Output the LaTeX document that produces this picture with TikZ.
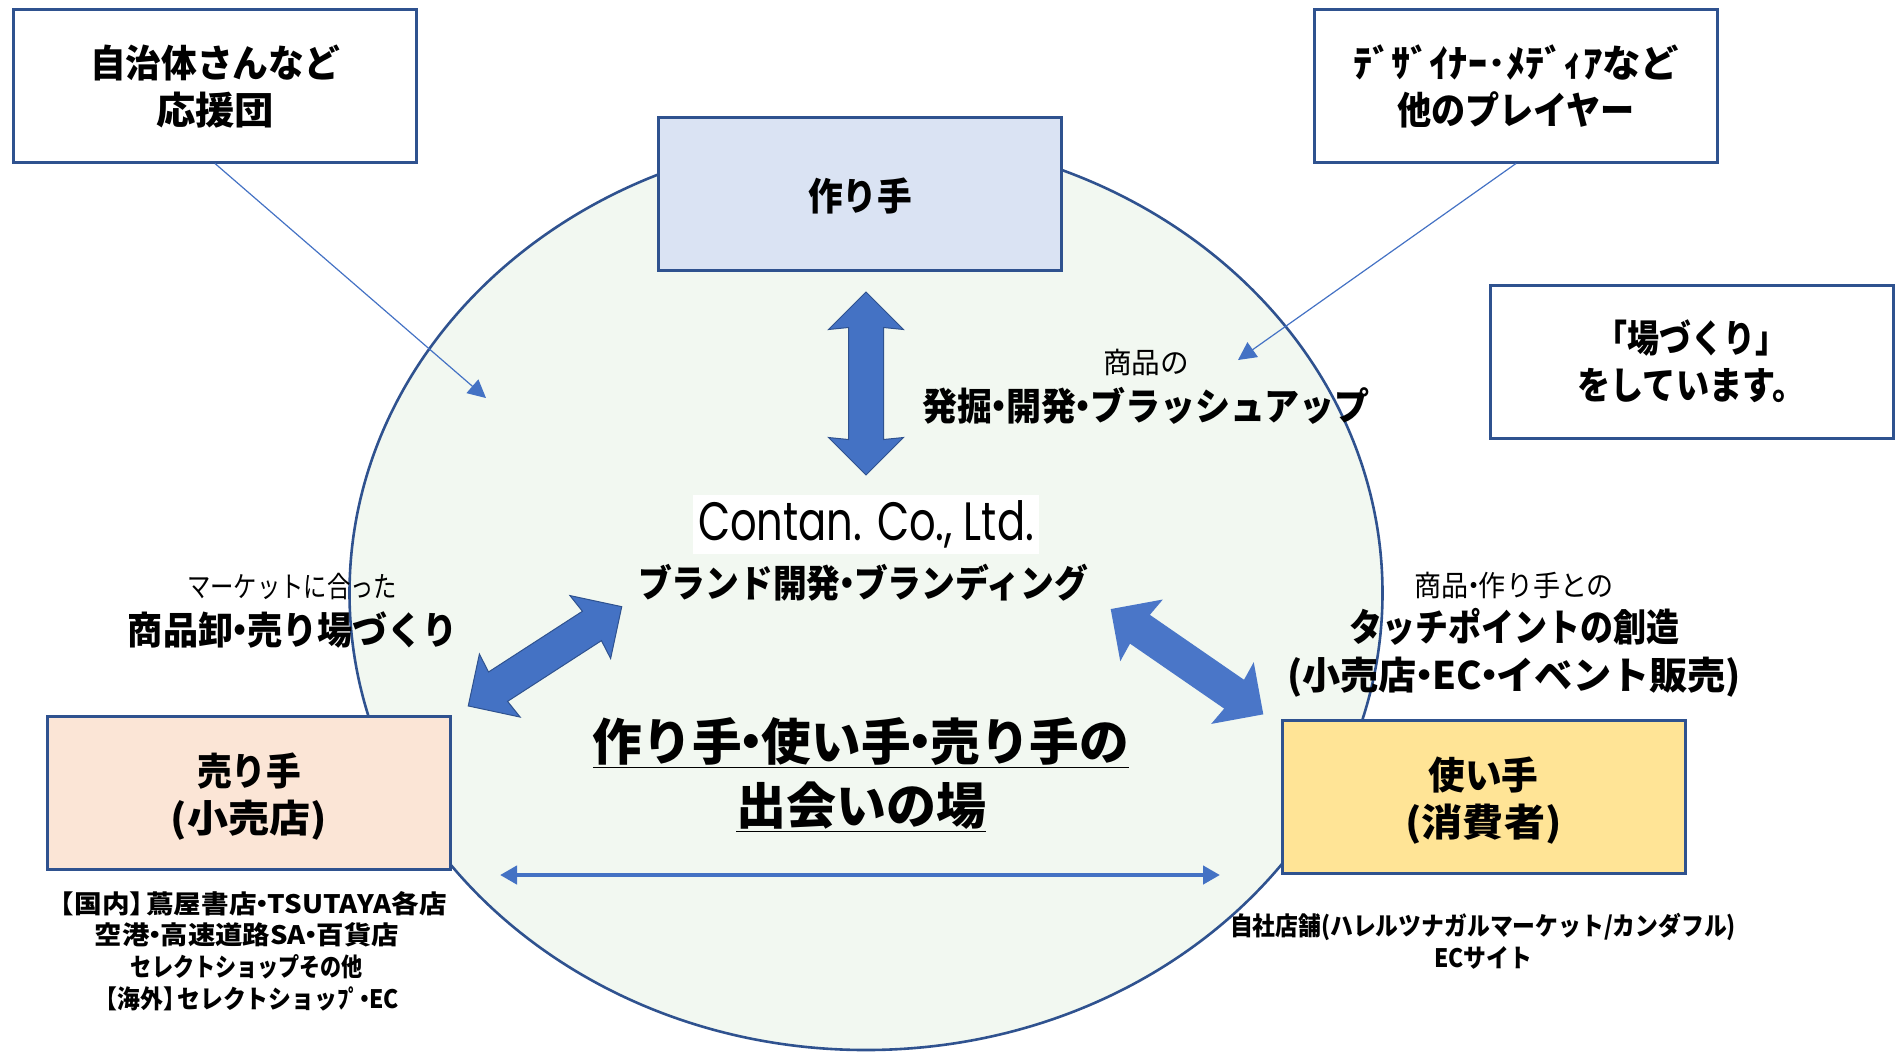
\documentclass[tikz,border=0pt]{standalone}
\usepackage{fontspec}
\usepackage{graphicx}
\usetikzlibrary{shapes.arrows,shapes.geometric,arrows.meta}
\setmainfont{Noto Sans CJK JP}
\newfontfamily\logofont{Poppins}
\newcommand{\fw}[2]{\resizebox{#1pt}{\height}{#2}}
\newcommand{\dt}{{\kern-.3em・\kern-.3em}}
\newcommand{\tg}[1]{\rule{0pt}{#1pt}}
\definecolor{edgeblue}{HTML}{2F528F}
\definecolor{arrowblue}{HTML}{4472C4}
\definecolor{arrowblueb}{HTML}{4A76C8}
\definecolor{circlefill}{HTML}{F2F8F1}
\tikzset{
  x=0.5pt,y=-0.5pt,
  box/.style={draw=edgeblue,line width=1.5pt,minimum width=201.5pt,minimum height=76.5pt,inner sep=0pt,align=center,fill=white,
     font=\bfseries\fontsize{19}{23.6}\selectfont},
  lab/.style={inner sep=0pt,align=center},
  boldlab/.style={lab,font=\bfseries\fontsize{19}{23.6}\selectfont},
  thinlab/.style={lab,font=\fontsize{14.5}{18}\selectfont},
  smalllab/.style={lab,font=\bfseries\fontsize{12.7}{15.8}\selectfont},
  titlelab/.style={lab,font=\bfseries\fontsize{25}{32}\selectfont},
  dbl/.style={double arrow,fill=#1,draw=edgeblue,line width=0.5pt,inner sep=0pt,text height=17pt,text depth=0pt,double arrow head extend=10pt,double arrow head indent=1pt},
  thin conn/.style={draw=arrowblue,line width=0.6pt,-{Triangle[length=9pt,width=9pt,fill=arrowblue]}},
  wide conn/.style={draw=arrowblue,line width=2.3pt,{Triangle[length=8.5pt,width=9pt,fill=arrowblue]}-{Triangle[length=8.5pt,width=9pt,fill=arrowblue]}},
}
\begin{document}
\begin{tikzpicture}
\useasboundingbox (0,0) rectangle (1899,1051);
\node[draw=edgeblue,line width=1.3pt,fill=circlefill,ellipse,minimum width=516.5pt,minimum height=457pt,inner sep=0pt] (ring) at (866,593) {};

\node[box,fill=white] (support) at (215,85.5) {\tg{17.5}\fw{125}{自治体さんなど}\\\fw{59}{応援団}};
\node[box] (players) at (1516,85.5) {\tg{17.5}\fw{163}{ﾃﾞｻﾞｲﾅｰ･ﾒﾃﾞｨｱなど}\\\fw{119}{他のプレイヤー}};
\node[box] (place) at (1691.5,361.5) {\fw{96}{「場づくり」}\\\fw{114}{をしています。}};
\node[box,fill={rgb,255:red,218;green,227;blue,243}] (maker) at (860,194) {\tg{18}\fw{52}{作り手}};
\node[box,fill={rgb,255:red,251;green,229;blue,214}] (seller) at (249,792.5) {\tg{20}\fw{52}{売り手}\\\fw{78}{(小売店)}};
\node[box,fill={rgb,255:red,255;green,228;blue,150}] (user) at (1483.5,796.5) {\tg{20}\fw{55}{使い手}\\\fw{78}{(消費者)}};

\coordinate (supporttip) at (486,398);
\coordinate (playerstip) at (1238,360);
\draw[thin conn] (support.south) -- (supporttip);
\draw[thin conn] (players.south) -- (playerstip);

\node[dbl=arrowblue,rotate=90,minimum height=91.5pt,minimum width=37pt] (upper) at (866,383.5) {};
\node[dbl=arrowblue,rotate=32.9,minimum height=91.4pt,minimum width=37pt] (left) at (545,656.3) {};
\node[dbl=arrowblueb,draw=none,rotate=-34.6,minimum height=92.7pt,minimum width=37pt] (right) at (1187,661.7) {};

\coordinate (wideleft) at (500,875);
\coordinate (wideright) at (1220,875);
\draw[wide conn] (wideleft) -- (wideright);

\node[fill=white,minimum width=173pt,minimum height=29.5pt,inner sep=0pt] (logobg) at (866,524) {};
\node[lab,font=\logofont\fontsize{27}{27}\selectfont] (logo) at (866,524) {\fw{168}{Contan. Co., Ltd.}};
\node[boldlab] (brand) at (863,583) {\fw{225}{ブランド開発\dt ブランディング}};

\node[thinlab] (dev1) at (1146,362) {\fw{43}{商品の}};
\node[boldlab] (dev2) at (1146,406) {\fw{224}{発掘\dt 開発\dt ブラッシュアップ}};
\node[thinlab] (mkt1) at (292,587) {\fw{105}{マーケットに合った}};
\node[boldlab] (mkt2) at (293,630) {\fw{165}{商品卸\dt 売り場づくり}};
\node[thinlab] (tp1) at (1514,585) {\fw{100}{商品\dt 作り手との}};
\node[boldlab] (tp2) at (1514,627) {\fw{165}{タッチポイントの創造}};
\node[boldlab] (tp3) at (1514,677) {\fw{227}{(小売店\dt EC\dt イベント販売)}};

\node[titlelab] (title) at (861,775) {\fw{268}{\underline{作り手\dt 使い手\dt 売り手の}}\\\fw{125}{\underline{出会いの場}}};

\node[smalllab] (retail) at (247,951) {\fw{200}{【国内】\kern-.4em 蔦屋書店\dt TSUTAYA各店}\\\fw{152}{空港\dt 高速道路SA\dt 百貨店}\\\fw{116}{セレクトショップその他}\\\fw{152}{【海外】\kern-.4em セレクトショッﾌﾟ\dt EC}};
\node[smalllab] (own) at (1483,941) {\fw{253}{自社店舗(ハレルツナガルマーケット/カンダフル)}\\\fw{49}{ECサイト}};
\end{tikzpicture}
\end{document}
